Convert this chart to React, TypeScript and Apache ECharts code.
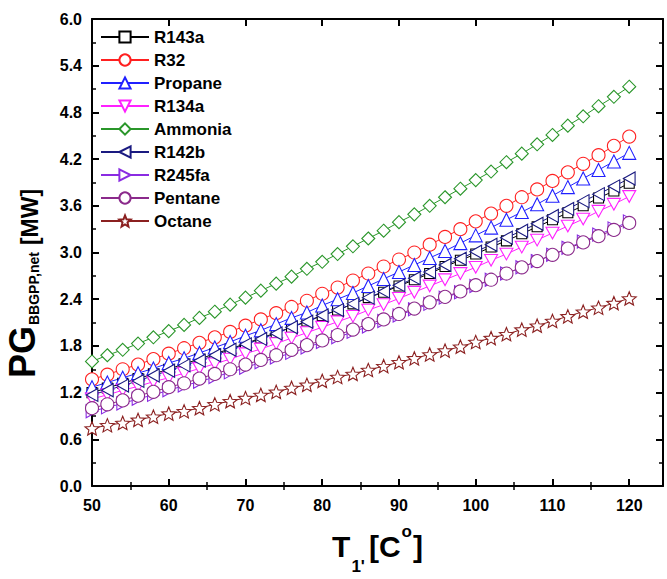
import React, { useEffect, useRef } from "react";
import * as echarts from "echarts";

const temps = [50, 52, 54, 56, 58, 60, 62, 64, 66, 68, 70, 72, 74, 76, 78, 80, 82, 84, 86, 88, 90, 92, 94, 96, 98, 100, 102, 104, 106, 108, 110, 112, 114, 116, 118, 120];

const r143a = [1.20, 1.26, 1.32, 1.38, 1.44, 1.50, 1.57, 1.63, 1.70, 1.76, 1.83, 1.90, 1.97, 2.04, 2.12, 2.19, 2.26, 2.34, 2.42, 2.49, 2.57, 2.65, 2.73, 2.82, 2.90, 2.98, 3.07, 3.15, 3.24, 3.33, 3.42, 3.51, 3.60, 3.70, 3.79, 3.89];
const r32 = [1.37, 1.43, 1.50, 1.56, 1.63, 1.70, 1.77, 1.84, 1.91, 1.98, 2.06, 2.14, 2.22, 2.30, 2.38, 2.47, 2.55, 2.64, 2.73, 2.82, 2.91, 3.00, 3.10, 3.20, 3.30, 3.40, 3.50, 3.60, 3.71, 3.81, 3.92, 4.03, 4.14, 4.25, 4.37, 4.49];
const propane = [1.27, 1.33, 1.39, 1.45, 1.51, 1.58, 1.64, 1.71, 1.78, 1.85, 1.93, 2.00, 2.08, 2.16, 2.23, 2.32, 2.40, 2.48, 2.57, 2.66, 2.75, 2.84, 2.93, 3.02, 3.12, 3.22, 3.32, 3.42, 3.52, 3.62, 3.73, 3.84, 3.95, 4.06, 4.17, 4.28];
const r134a = [1.12, 1.17, 1.23, 1.28, 1.34, 1.39, 1.45, 1.51, 1.57, 1.63, 1.70, 1.76, 1.83, 1.90, 1.97, 2.04, 2.11, 2.18, 2.26, 2.33, 2.41, 2.49, 2.57, 2.65, 2.73, 2.81, 2.90, 2.98, 3.07, 3.16, 3.25, 3.34, 3.43, 3.53, 3.62, 3.72];
const ammonia = [1.60, 1.68, 1.75, 1.83, 1.91, 1.99, 2.07, 2.16, 2.24, 2.33, 2.42, 2.51, 2.60, 2.69, 2.79, 2.88, 2.98, 3.08, 3.18, 3.28, 3.39, 3.49, 3.60, 3.71, 3.82, 3.93, 4.04, 4.16, 4.27, 4.39, 4.51, 4.63, 4.75, 4.88, 5.00, 5.13];
const r142b = [1.17, 1.23, 1.29, 1.35, 1.42, 1.48, 1.55, 1.61, 1.68, 1.75, 1.82, 1.89, 1.96, 2.04, 2.11, 2.19, 2.26, 2.34, 2.42, 2.50, 2.58, 2.67, 2.75, 2.84, 2.92, 3.01, 3.10, 3.19, 3.28, 3.37, 3.47, 3.56, 3.66, 3.75, 3.85, 3.95];
const r245fa = [0.96, 1.01, 1.06, 1.12, 1.17, 1.23, 1.29, 1.34, 1.40, 1.46, 1.52, 1.59, 1.65, 1.71, 1.78, 1.85, 1.91, 1.98, 2.05, 2.12, 2.19, 2.27, 2.34, 2.42, 2.49, 2.57, 2.65, 2.73, 2.81, 2.89, 2.97, 3.06, 3.14, 3.23, 3.31, 3.40];
const pentane = [1.00, 1.05, 1.10, 1.16, 1.21, 1.27, 1.32, 1.38, 1.44, 1.50, 1.56, 1.62, 1.68, 1.75, 1.81, 1.87, 1.94, 2.01, 2.08, 2.14, 2.21, 2.28, 2.36, 2.43, 2.50, 2.58, 2.65, 2.73, 2.81, 2.89, 2.97, 3.05, 3.13, 3.21, 3.29, 3.38];
const octane = [0.74, 0.78, 0.81, 0.85, 0.89, 0.93, 0.96, 1.00, 1.05, 1.09, 1.13, 1.17, 1.21, 1.26, 1.30, 1.35, 1.40, 1.44, 1.49, 1.54, 1.59, 1.64, 1.69, 1.74, 1.79, 1.85, 1.90, 1.95, 2.01, 2.06, 2.12, 2.18, 2.24, 2.29, 2.35, 2.41];

const xMajorTicks = [50, 60, 70, 80, 90, 100, 110, 120];
const xMinorTicks = [55, 65, 75, 85, 95, 105, 115];

const FONT = "'Liberation Sans', Arial, Helvetica, sans-serif";

const STAR = "path://M10,0 L12.6,6.4 L19.51,6.91 L14.2,11.3 L15.88,18.09 L10,14.5 L4.12,18.09 L5.8,11.3 L0.49,6.91 L7.4,6.4 Z";
const TRI_DOWN = "path://M0,0 L10,0 L5,9 Z";
const TRI_LEFT = "path://M0,5 L9,0 L9,10 Z";
const TRI_RIGHT = "path://M0,0 L9,5 L0,10 Z";

const seriesStyles = [
  { name: "R143a", data: r143a, color: "#000000", symbol: "rect", size: 10 },
  { name: "R32", data: r32, color: "#ff2020", symbol: "circle", size: 13 },
  { name: "Propane", data: propane, color: "#2020ff", symbol: "triangle", size: 13 },
  { name: "R134a", data: r134a, color: "#ff20ff", symbol: TRI_DOWN, size: 13 },
  { name: "Ammonia", data: ammonia, color: "#2a962a", symbol: "diamond", size: 13 },
  { name: "R142b", data: r142b, color: "#1a1a80", symbol: TRI_LEFT, size: 13 },
  { name: "R245fa", data: r245fa, color: "#8a2be2", symbol: TRI_RIGHT, size: 13 },
  { name: "Pentane", data: pentane, color: "#8b2a8b", symbol: "circle", size: 13 },
  { name: "Octane", data: octane, color: "#8b2020", symbol: STAR, size: 14 },
];

function measure(text: string, font: string): number {
  const c = document.createElement("canvas").getContext("2d");
  if (!c) return text.length * 10;
  c.font = font;
  return c.measureText(text).width;
}

function txt(x: number, y: number, text: string, font: string) {
  return {
    type: "text",
    x,
    y,
    silent: true,
    style: {
      text,
      font,
      fill: "#000",
      textAlign: "left",
      textVerticalAlign: "middle",
      align: "left",
      verticalAlign: "middle",
    },
  };
}

export default function App() {
  const ref = useRef<HTMLDivElement>(null);

  useEffect(() => {
    document.body.style.margin = "0";
    if (!ref.current) return;
    const chart = echarts.init(ref.current, undefined, { renderer: "svg" });

    const fPG = `bold 36px ${FONT}`;
    const fSub = `bold 14px ${FONT}`;
    const fMW = `bold 23px ${FONT}`;
    const wPG = measure("PG", fPG);
    const wSub = measure("BBGPP,net", fSub);
    const yTitle = {
      type: "group",
      x: 0,
      y: 378,
      rotation: Math.PI / 2,
      children: [
        txt(0, 22.5, "PG", fPG),
        txt(wPG + 1, 34, "BBGPP,net", fSub),
        txt(wPG + 1 + wSub + 7, 29.5, "[MW]", fMW),
      ],
    };

    const fT = `bold 30px ${FONT}`;
    const fS1 = `bold 17px ${FONT}`;
    const fSup = `bold 17px ${FONT}`;
    const wT = measure("T", fT);
    const w1 = measure("1'", fS1);
    const wC = measure("[C", fT);
    const wo = measure("o", fSup);
    const wB = measure("]", fT);
    const total = wT + 1 + w1 + 4 + wC + 1 + wo + 1 + wB;
    let x0 = 377.5 - total / 2;
    const xt: any[] = [];
    xt.push(txt(x0, 546, "T", fT));
    x0 += wT + 1;
    xt.push(txt(x0, 566, "1'", fS1));
    x0 += w1 + 4;
    xt.push(txt(x0, 546, "[C", fT));
    x0 += wC + 1;
    xt.push(txt(x0, 531, "o", fSup));
    x0 += wo + 1;
    xt.push(txt(x0, 546, "]", fT));

    const axisLine = { show: true, onZero: false, lineStyle: { color: "#000", width: 2 } };
    const majorTick = { lineStyle: { color: "#000", width: 2 } };

    const xBase = {
      type: "value",
      min: 50,
      max: 124.4,
      splitLine: { show: false },
      gridIndex: 0,
    };

    const option: any = {
      animation: false,
      backgroundColor: "#fff",
      grid: { left: 92, right: 4, top: 19, bottom: 93, containLabel: false, outerBoundsMode: "none" },
      xAxis: [
        {
          ...xBase,
          position: "bottom",
          axisLine,
          axisTick: { show: true, inside: true, length: 7, customValues: xMajorTicks, ...majorTick },
          axisLabel: {
            show: true,
            customValues: xMajorTicks,
            fontSize: 16,
            fontWeight: "bold",
            fontFamily: FONT,
            color: "#000",
            margin: 11,
          },
        },
        {
          ...xBase,
          position: "bottom",
          axisLine: { show: false },
          axisTick: { show: true, inside: true, length: 4, customValues: xMinorTicks, lineStyle: { color: "#000", width: 1.5 } },
          axisLabel: { show: false },
        },
        {
          ...xBase,
          position: "top",
          axisLine,
          axisTick: { show: true, inside: true, length: 7, customValues: xMajorTicks, ...majorTick },
          axisLabel: { show: false },
        },
        {
          ...xBase,
          position: "top",
          axisLine: { show: false },
          axisTick: { show: true, inside: true, length: 4, customValues: xMinorTicks, lineStyle: { color: "#000", width: 1.5 } },
          axisLabel: { show: false },
        },
      ],
      yAxis: [
        {
          type: "value",
          position: "left",
          min: 0,
          max: 6,
          interval: 0.6,
          splitLine: { show: false },
          axisLine,
          axisTick: { show: true, inside: true, length: 7, ...majorTick },
          minorTick: { show: true, splitNumber: 2, length: 4, lineStyle: { color: "#000", width: 1.5 } },
          axisLabel: {
            show: true,
            formatter: (v: number) => v.toFixed(1),
            fontSize: 16,
            fontWeight: "bold",
            fontFamily: FONT,
            color: "#000",
            margin: 10,
          },
        },
        {
          type: "value",
          position: "right",
          min: 0,
          max: 6,
          interval: 0.6,
          splitLine: { show: false },
          axisLine,
          axisTick: { show: true, inside: true, length: 7, ...majorTick },
          minorTick: { show: true, splitNumber: 2, length: 4, lineStyle: { color: "#000", width: 1.5 } },
          axisLabel: { show: false },
        },
      ],
      legend: {
        orient: "vertical",
        left: 100,
        top: 28,
        itemWidth: 48,
        itemHeight: 14,
        itemGap: 5,
        padding: 0,
        data: seriesStyles.map((s) => s.name),
        textStyle: { fontSize: 17, fontFamily: FONT, color: "#000", fontWeight: "bold", lineHeight: 18 },
      },
      graphic: [yTitle, ...xt],
      series: seriesStyles.map((s) => ({
        name: s.name,
        type: "line",
        xAxisIndex: 0,
        yAxisIndex: 0,
        data: temps.map((t, i) => [t, s.data[i]]),
        symbol: s.symbol,
        symbolSize: s.size,
        symbolKeepAspect: true,
        showAllSymbol: true,
        clip: true,
        color: s.color,
        lineStyle: { color: s.color, width: 1 },
        itemStyle: { color: "#ffffff", borderColor: s.color, borderWidth: 1.1 },
        emphasis: { disabled: true },
      })),
    };

    chart.setOption(option);
    return () => chart.dispose();
  }, []);

  return <div ref={ref} style={{ width: 667, height: 579 }} />;
}
